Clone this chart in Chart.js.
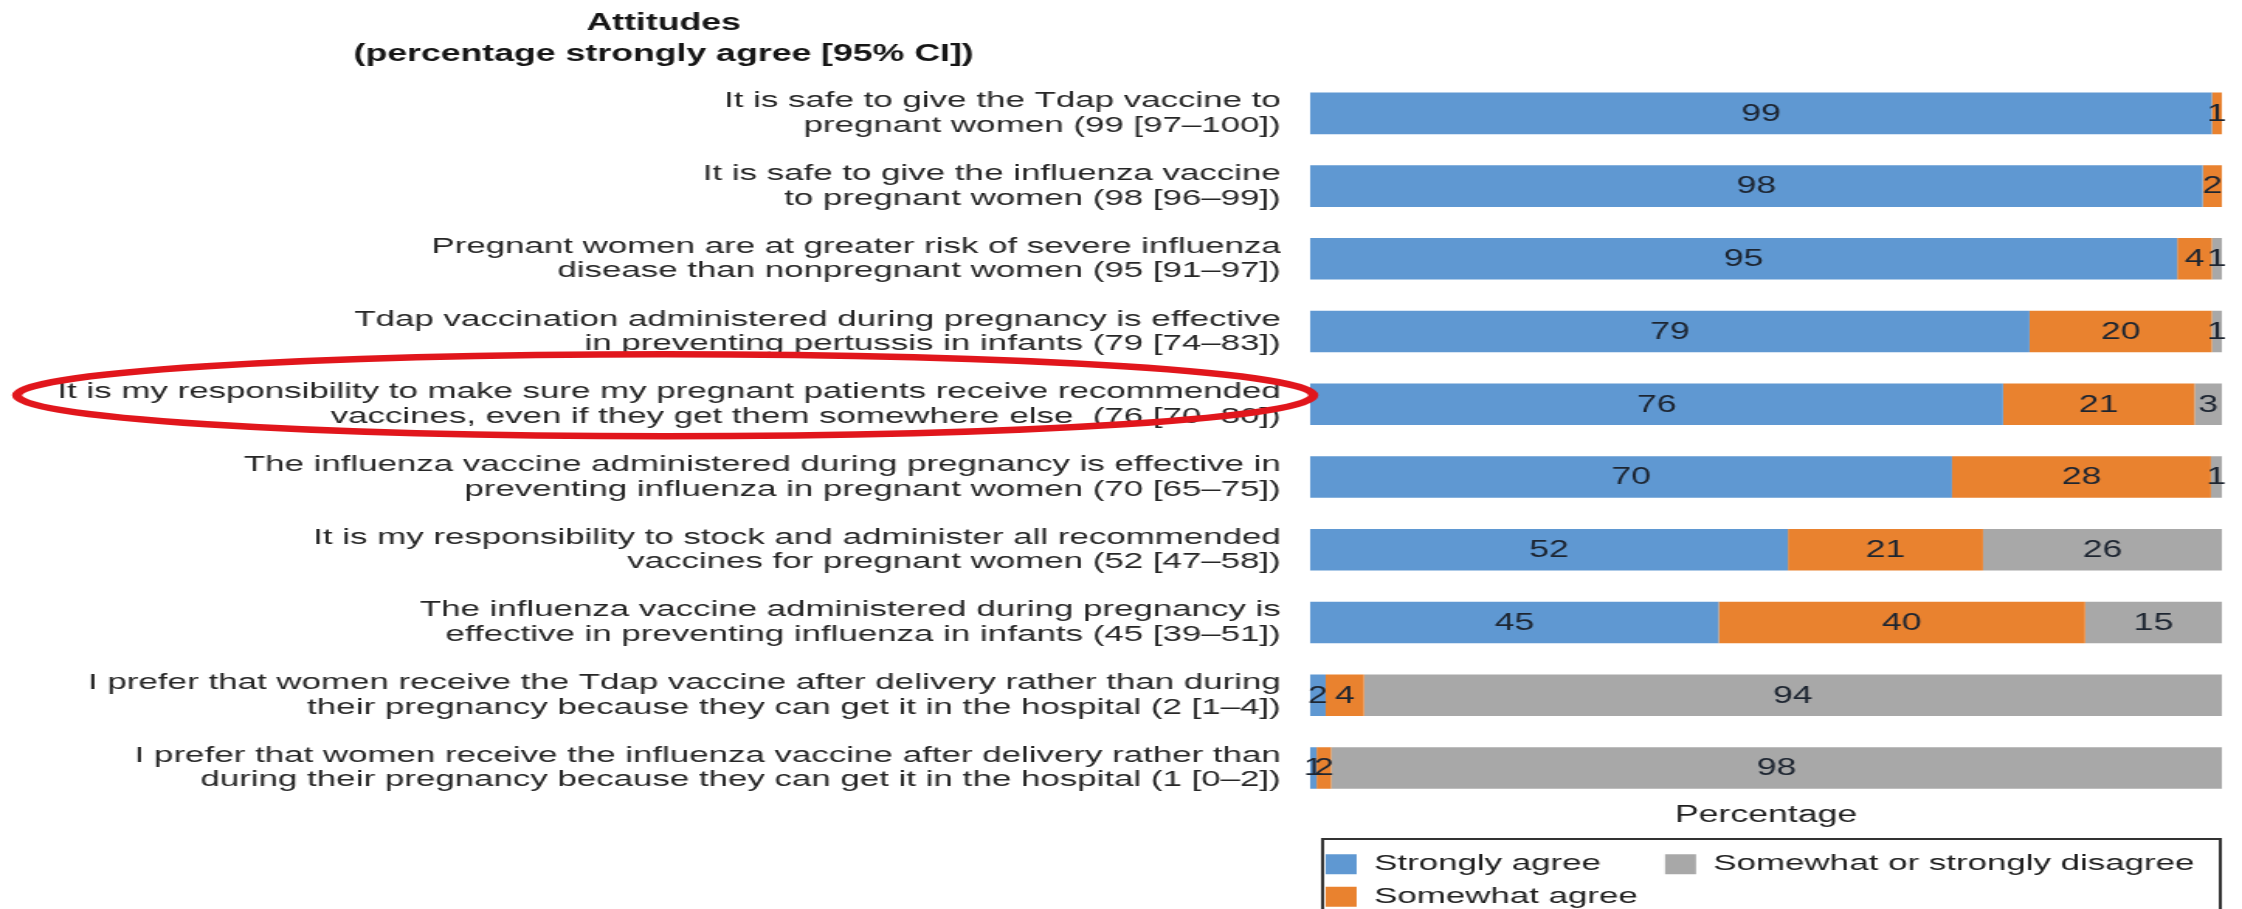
<!DOCTYPE html>
<html>
<head>
<meta charset="utf-8">
<title>Attitudes</title>
<script src="https://cdn.jsdelivr.net/npm/chart.js@4/dist/chart.umd.min.js"></script>
<style>
  html, body { margin: 0; padding: 0; background: #fff; overflow: hidden; }
  /* the source picture is stretched sideways, so the canvas is too */
  #chart { display: block; transform: scaleX(1.5505); transform-origin: 0 0; }
</style>
</head>
<body>
<canvas id="chart" width="1446" height="909"></canvas>
<script>
var titleLines = ['Attitudes', '(percentage strongly agree [95% CI])']
var axisTitle = 'Percentage'

var categories = [
  ['It is safe to give the Tdap vaccine to', 'pregnant women (99 [97\u2013100])'],
  ['It is safe to give the influenza vaccine', 'to pregnant women (98 [96\u201399])'],
  ['Pregnant women are at greater risk of severe influenza', 'disease than nonpregnant women (95 [91\u201397])'],
  ['Tdap vaccination administered during pregnancy is effective', 'in preventing pertussis in infants (79 [74\u201383])'],
  ['It is my responsibility to make sure my pregnant patients receive recommended', 'vaccines, even if they get them somewhere else  (76 [70\u201380])'],
  ['The influenza vaccine administered during pregnancy is effective in', 'preventing influenza in pregnant women (70 [65\u201375])'],
  ['It is my responsibility to stock and administer all recommended', 'vaccines for pregnant women (52 [47\u201358])'],
  ['The influenza vaccine administered during pregnancy is', 'effective in preventing influenza in infants (45 [39\u201351])'],
  ['I prefer that women receive the Tdap vaccine after delivery rather than during', 'their pregnancy because they can get it in the hospital (2 [1\u20134])'],
  ['I prefer that women receive the influenza vaccine after delivery rather than', 'during their pregnancy because they can get it in the hospital (1 [0\u20132])']
]

var seriesNames = ['Strongly agree', 'Somewhat agree', 'Somewhat or strongly disagree']
var strongAgree = [98.9, 97.9, 95.1, 78.9, 76.0, 70.4, 52.4, 44.8, 1.7, 0.7]
var somewhatAgree = [1.1, 2.1, 3.8, 20.0, 21.0, 28.4, 21.4, 40.2, 4.2, 1.6]
var disagree = [0, 0, 1.1, 1.1, 3.0, 1.2, 26.2, 15.0, 94.1, 97.7]
var seriesColors = ['#5f98d2', '#e9822f', '#a8a8a8']
var legendOrder = [0, 2, 1]

var fontFamily = '"Liberation Sans", Arial, sans-serif'
Chart.defaults.font.family = fontFamily

// header over the label column
var header = {
  id: 'header',
  afterDraw: function (chart) {
    var ctx = chart.ctx
    ctx.save()
    ctx.fillStyle = '#151515'
    ctx.font = 'bold 23px ' + fontFamily
    ctx.textAlign = 'center'
    ctx.textBaseline = 'middle'
    ctx.fillText(titleLines[0], 428, 24)
    ctx.fillText(titleLines[1], 428, 55)
    ctx.restore()
  }
}

// numbers inside the bar segments
var valueLabels = {
  id: 'valueLabels',
  afterDatasetsDraw: function (chart) {
    var ctx = chart.ctx
    ctx.save()
    ctx.font = '23px ' + fontFamily
    ctx.fillStyle = '#1d2531'
    ctx.textAlign = 'center'
    ctx.textBaseline = 'middle'
    chart.data.datasets.forEach(function (ds, i) {
      chart.getDatasetMeta(i).data.forEach(function (bar, j) {
        var v = Math.round(ds.data[j])
        if (!v) return
        var p = bar.getCenterPoint()
        ctx.fillText(String(v), p.x, p.y + 1)
      })
    })
    ctx.restore()
  }
}

// frame round the legend and the red ring on row 5
var extras = {
  id: 'extras',
  afterDraw: function (chart) {
    var ctx = chart.ctx
    var lg = chart.legend
    ctx.save()
    ctx.strokeStyle = '#333'
    ctx.lineWidth = 2
    ctx.strokeRect(lg.left + 8, lg.top - 4, lg.right - lg.left - 9, chart.height)

    var y = chart.scales.y.getPixelForValue(4) - 9
    ctx.strokeStyle = '#e1161c'
    ctx.lineWidth = 6.5
    ctx.beginPath()
    ctx.ellipse(429, y, 418, 41, 0, 0, Math.PI * 2)
    ctx.stroke()
    ctx.restore()
  }
}

function makeDataset (i, values) {
  return {
    label: seriesNames[i],
    data: values,
    backgroundColor: seriesColors[i],
    borderWidth: 0,
    barPercentage: 0.571,
    categoryPercentage: 1
  }
}

var chart = new Chart(document.getElementById('chart'), {
  type: 'bar',
  data: {
    labels: categories,
    datasets: [
      makeDataset(0, strongAgree),
      makeDataset(1, somewhatAgree),
      makeDataset(2, disagree)
    ]
  },
  options: {
    indexAxis: 'y',
    responsive: false,
    animation: false,
    layout: { padding: { top: 77, right: 13, bottom: -9, left: 0 } },
    scales: {
      x: {
        stacked: true,
        min: 0,
        max: 100,
        grid: { display: false },
        border: { display: false },
        ticks: { display: false },
        title: {
          display: true,
          text: axisTitle,
          color: '#1f1f1f',
          font: { size: 23 },
          padding: { top: -11, bottom: 14 }
        }
      },
      y: {
        stacked: true,
        grid: { display: false },
        border: { display: false },
        ticks: {
          autoSkip: false,
          color: '#262626',
          padding: 11,
          font: { size: 22.5, lineHeight: 1.09 }
        },
        afterFit: function (scale) { scale.width = 845 }
      }
    },
    plugins: {
      title: { display: false },
      tooltip: { enabled: false },
      legend: {
        position: 'bottom',
        align: 'start',
        fullSize: false,
        labels: {
          color: '#1f1f1f',
          font: { size: 22.5 },
          boxWidth: 20,
          boxHeight: 20,
          padding: 10,
          generateLabels: function (c) {
            var items = Chart.defaults.plugins.legend.labels.generateLabels(c)
            items[0].text += '     '
            return items
          },
          sort: function (a, b) {
            return legendOrder.indexOf(a.datasetIndex) - legendOrder.indexOf(b.datasetIndex)
          }
        }
      }
    }
  },
  plugins: [header, valueLabels, extras]
})
</script>
</body>
</html>
